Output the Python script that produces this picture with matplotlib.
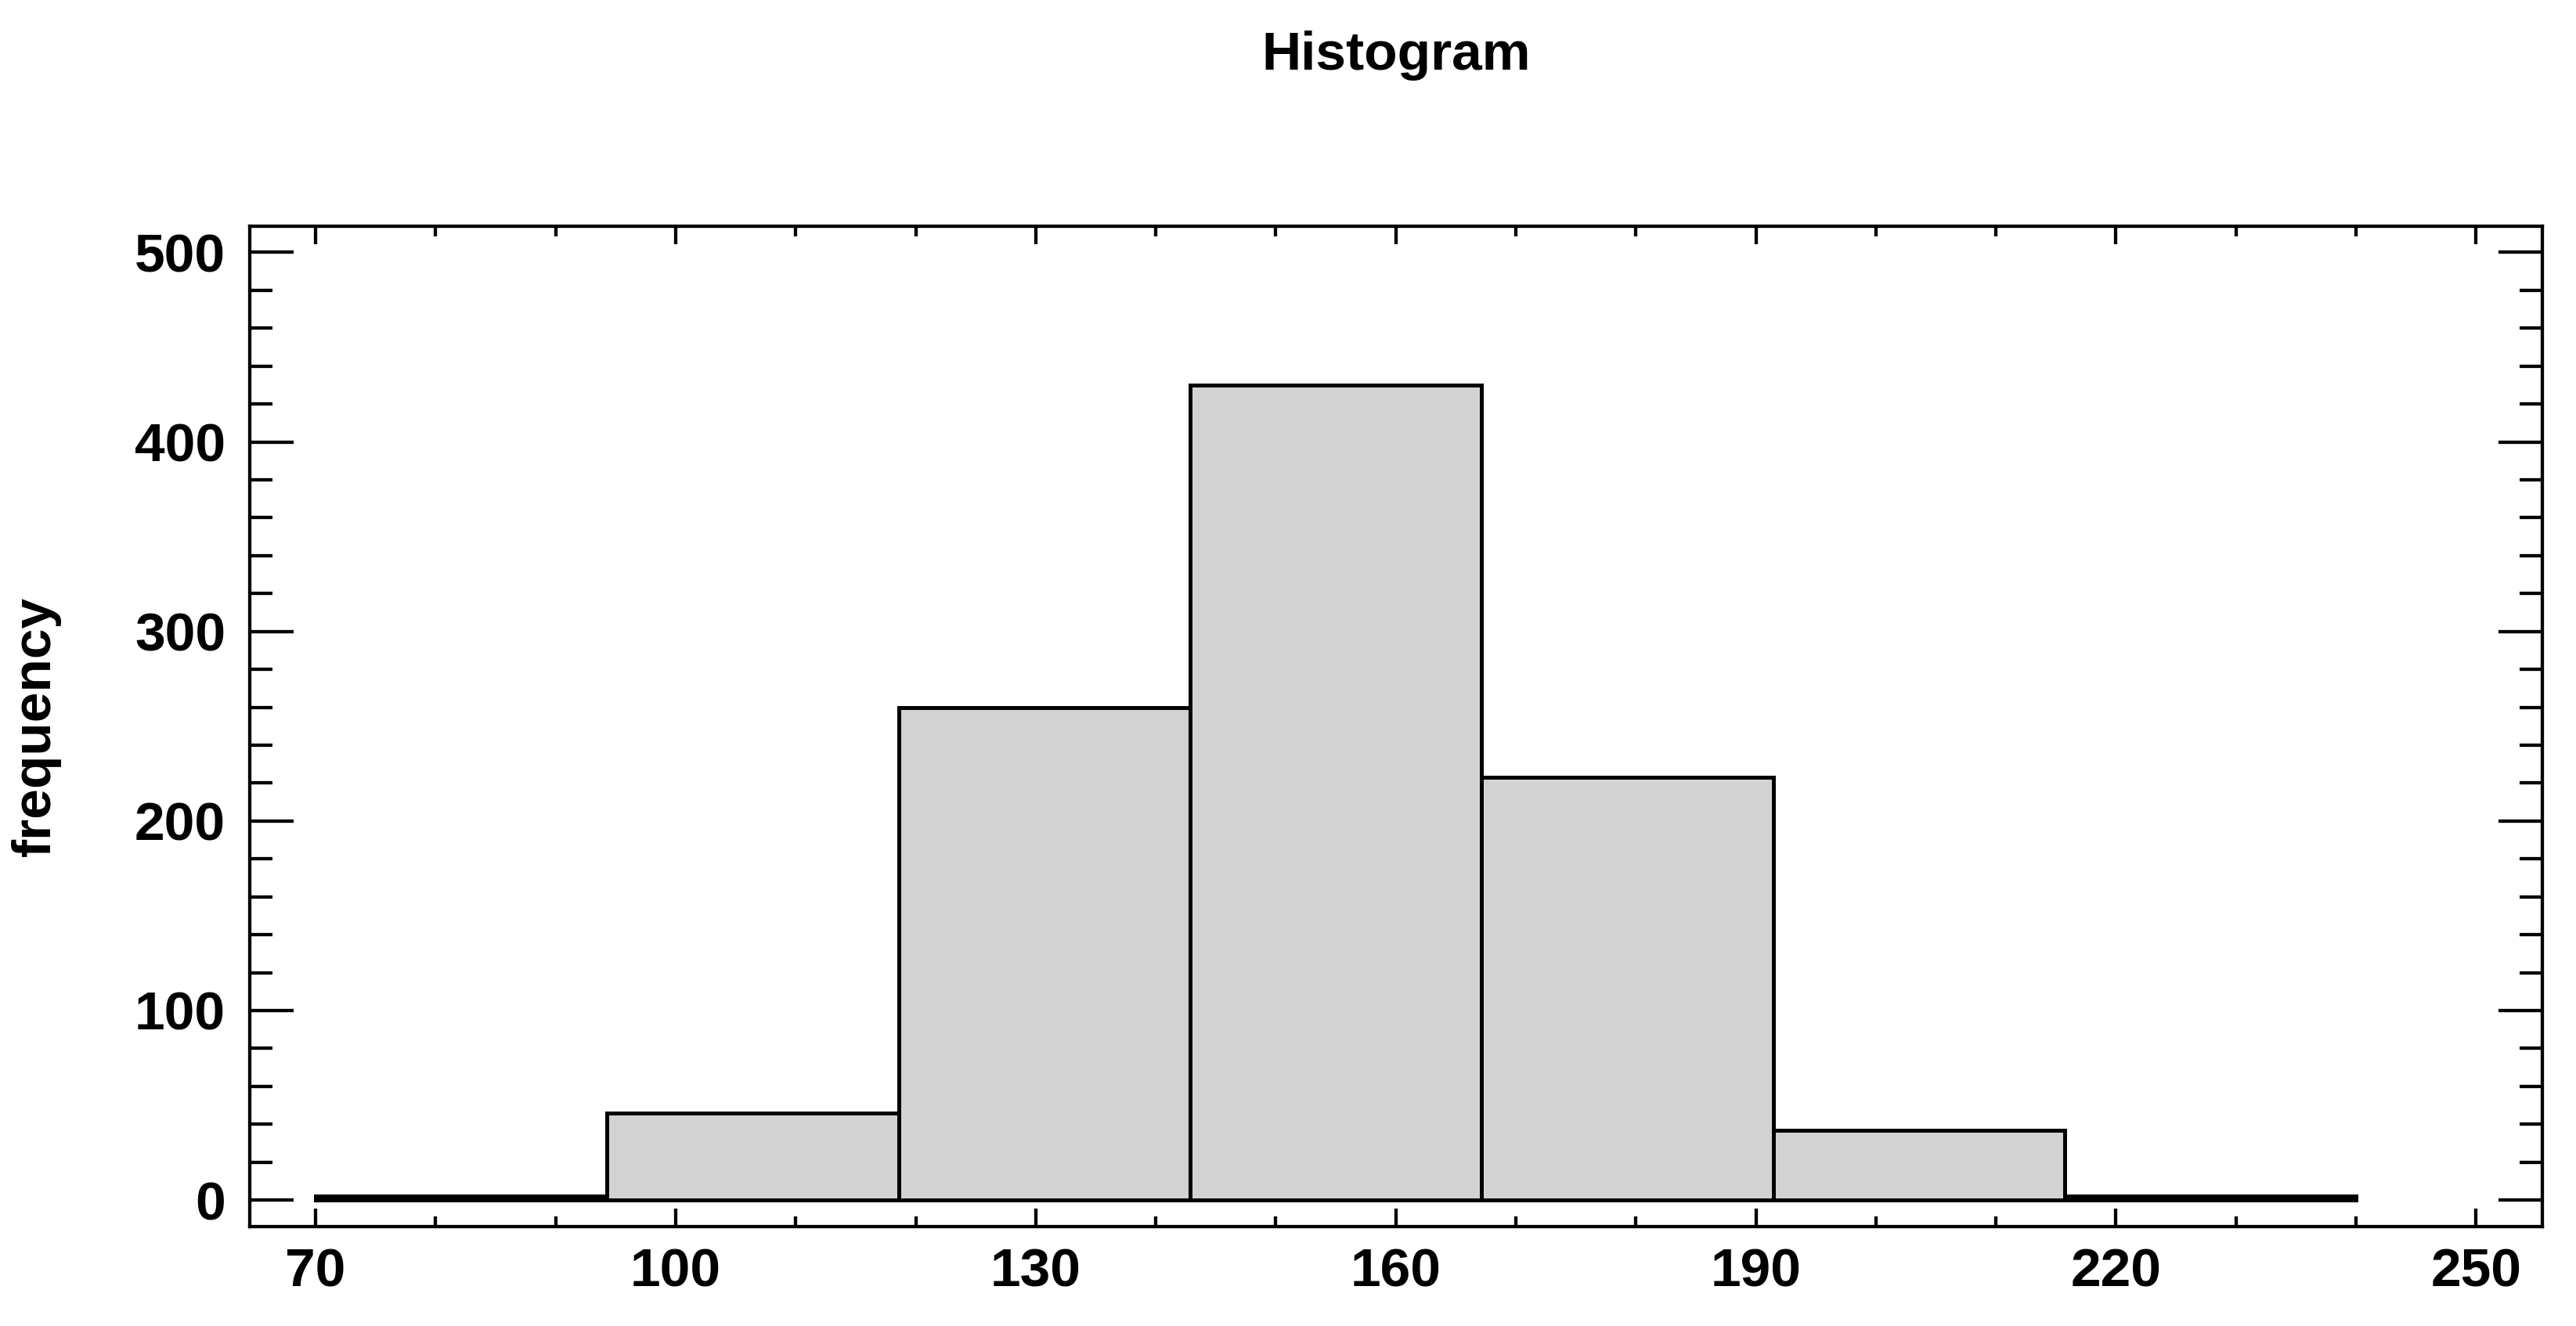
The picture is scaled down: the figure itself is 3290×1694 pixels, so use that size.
import matplotlib
matplotlib.use("Agg")
import matplotlib.pyplot as plt
from matplotlib.ticker import MultipleLocator, FixedLocator

plt.rcParams['font.family'] = ['Liberation Sans', 'DejaVu Sans']
plt.rcParams['font.weight'] = 'bold'

# Data
bin_edges = [70, 94.29, 118.57, 142.86, 167.14, 191.43, 215.71, 240]
counts = [2, 46, 260, 430, 223, 37, 2]
x_ticks = [70, 100, 130, 160, 190, 220, 250]
y_ticks = [0, 100, 200, 300, 400, 500]
title = "Histogram"
ylabel = "frequency"

W, H, DPI = 3291, 1694, 100
fig = plt.figure(figsize=(W / DPI, H / DPI), dpi=DPI)
fig.patch.set_facecolor('white')

left, right = 318.7 / W, 3246.7 / W
top, bottom = 1 - 288.7 / H, 1 - 1567 / H
ax = fig.add_axes([left, bottom, right - left, top - bottom])

widths = [b - a for a, b in zip(bin_edges[:-1], bin_edges[1:])]
ax.bar(bin_edges[:-1], counts, width=widths, align='edge',
       facecolor='#d2d2d2', edgecolor='black', linewidth=3.6)

ax.set_xlim(64.5, 255.5)
ax.set_ylim(-14, 513.9)

ax.xaxis.set_major_locator(FixedLocator(x_ticks))
ax.xaxis.set_minor_locator(MultipleLocator(10))
ax.yaxis.set_major_locator(FixedLocator(y_ticks))
ax.yaxis.set_minor_locator(MultipleLocator(20))

for s in ax.spines.values():
    s.set_linewidth(3.1)

ax.tick_params(which='both', direction='in', top=True, right=True,
               width=3.1, color='black')
ax.tick_params(axis='x', which='major', length=16.5, pad=19, labelsize=50)
ax.tick_params(axis='x', which='minor', length=9.6)
ax.tick_params(axis='y', which='major', length=40, pad=22, labelsize=50)
ax.tick_params(axis='y', which='minor', length=21)
for lab in ax.get_xticklabels() + ax.get_yticklabels():
    lab.set_fontweight('bold')

cx = (left + right) / 2
fig.text(cx, 1 - 89 / H, title, ha='center', va='baseline',
         fontsize=50, fontweight='bold')
fig.text(46 / W, (top + bottom) / 2, ylabel, rotation=90, ha='center',
         va='center', fontsize=50, fontweight='bold')

fig.savefig("out.png", dpi=DPI, facecolor='white')
